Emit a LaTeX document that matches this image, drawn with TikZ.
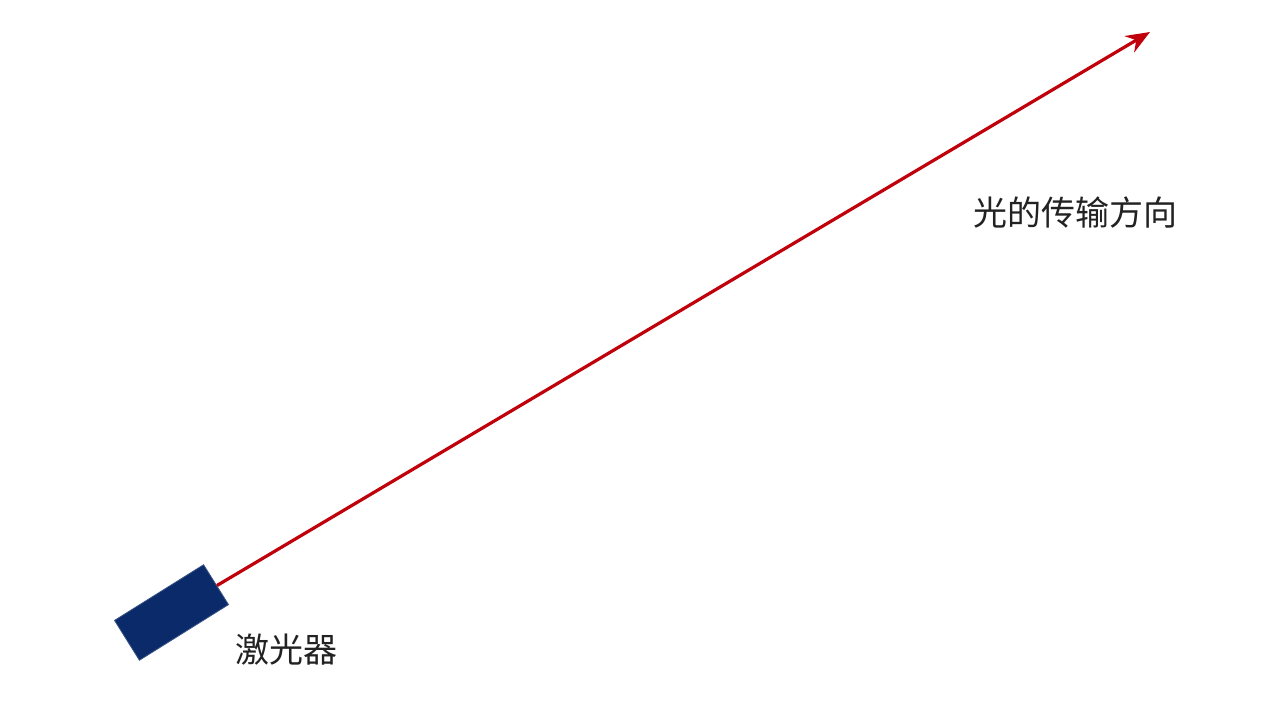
\documentclass[tikz,border=0pt]{standalone}
\usepackage{fontspec}
\newfontfamily\cjk{Noto Sans CJK SC}
\usetikzlibrary{arrows.meta}
\definecolor{beamred}{HTML}{C0000A}
\definecolor{lasernavy}{HTML}{0B2A6A}
\definecolor{txtgray}{HTML}{222222}
\begin{document}
\begin{tikzpicture}[x=1pt,y=-1pt,
  laserbox/.style={draw=lasernavy!80!white,line width=0.8pt,fill=lasernavy,minimum width=105pt,minimum height=47pt,inner sep=0pt,rotate=32},
  beam/.style={draw=beamred,line width=3.2pt,-{Stealth[length=24pt,width=19pt,inset=8pt]}},
  lbl/.style={text=txtgray,font=\cjk\fontsize{34}{37}\selectfont,inner sep=0pt}]
\useasboundingbox[fill=white] (0,0) rectangle (1267,712);
\node[laserbox] (laser) at (171.5,612.5) {};
\coordinate (tip) at (1150,32);
\draw[beam] (laser) -- (tip);
\node[lbl] (lasertxt) at (286,650) {激光器};
\node[lbl] (dirtxt) at (1075.5,213) {光的传输方向};
\end{tikzpicture}
\end{document}
